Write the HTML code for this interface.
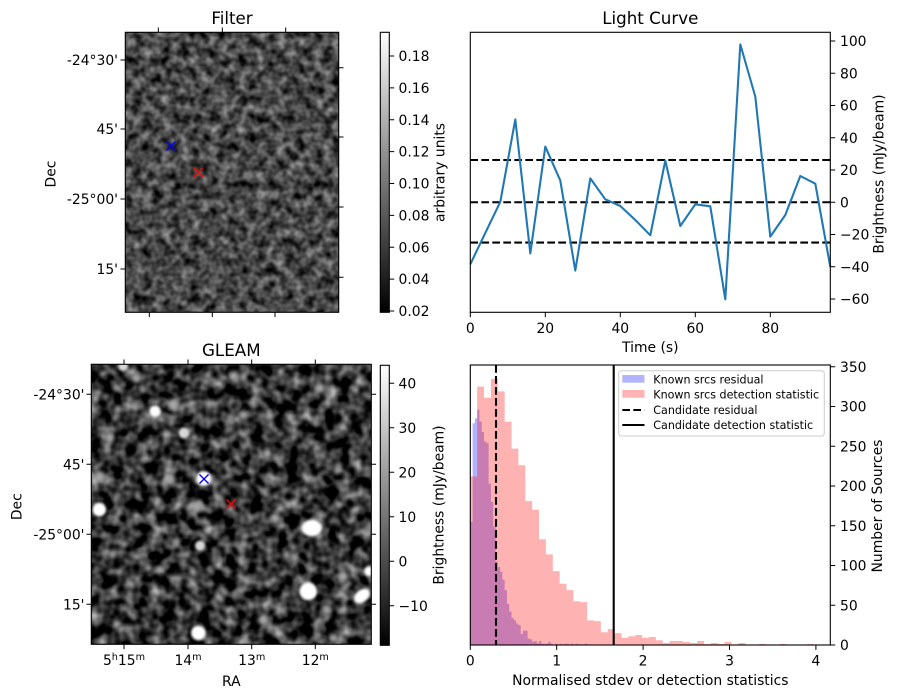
<!DOCTYPE html>
<html>
<head>
<meta charset="utf-8">
<style>
  html,body{margin:0;padding:0;background:#fff;}
  svg{display:block;}
  text{font-family:"DejaVu Sans","Liberation Sans",sans-serif;fill:#000;}
</style>
</head>
<body>
<svg width="898" height="699" viewBox="0 0 898 699" xmlns="http://www.w3.org/2000/svg">
  <defs>
    <filter id="fnoise" x="0" y="0" width="1" height="1" color-interpolation-filters="sRGB">
      <feTurbulence type="fractalNoise" baseFrequency="0.105" numOctaves="2" seed="7"/>
      <feColorMatrix type="matrix" values="0.9 0 0 0 -0.17  0.9 0 0 0 -0.17  0.9 0 0 0 -0.17  0 0 0 0 1"/>
    </filter>
    <filter id="gnoise" x="0" y="0" width="1" height="1" color-interpolation-filters="sRGB">
      <feTurbulence type="fractalNoise" baseFrequency="0.08" numOctaves="2" seed="3"/>
      <feColorMatrix type="matrix" values="1.3 0 0 0 -0.44  1.3 0 0 0 -0.44  1.3 0 0 0 -0.44  0 0 0 0 1"/>
    </filter>
    <filter id="blur" x="-50%" y="-50%" width="200%" height="200%">
      <feGaussianBlur stdDeviation="1.3"/>
    </filter>
    <filter id="blur2" x="-50%" y="-50%" width="200%" height="200%">
      <feGaussianBlur stdDeviation="2"/>
    </filter>
    <clipPath id="gclip"><rect x="91.3" y="364.3" width="280" height="280"/></clipPath>
    <linearGradient id="cbar" x1="0" y1="1" x2="0" y2="0">
      <stop offset="0" stop-color="#000"/>
      <stop offset="1" stop-color="#fff"/>
    </linearGradient>
  </defs>

  <!-- ================= FILTER PANEL ================= -->
  <text x="232" y="24" font-size="16.7" text-anchor="middle">Filter</text>
  <rect x="125.3" y="32.3" width="213.4" height="280" filter="url(#fnoise)" fill="#555"/>
  <g stroke-width="1.4" fill="none">
    <path d="M166.5,141.5 L175.5,150.5 M166.5,150.5 L175.5,141.5" stroke="#0000ff"/>
    <path d="M193.8,167.8 L202.8,176.8 M193.8,176.8 L202.8,167.8" stroke="#ff0000"/>
  </g>
  <rect x="125.3" y="32.3" width="213.4" height="280" fill="none" stroke="#000" stroke-width="1.1"/>
  <g stroke="#000" stroke-width="1">
    <path d="M120.5,60 H125.3 M120.5,129 H125.3 M120.5,199 H125.3 M120.5,269 H125.3"/>
    <path d="M338.7,67.7 H343.5 M338.7,137 H343.5 M338.7,207 H343.5 M338.7,277.3 H343.5"/>
    <path d="M158.3,27.5 V32.3 M222.3,27.5 V32.3 M285.7,27.5 V32.3"/>
    <path d="M149.3,312.3 V317.1 M212.3,312.3 V317.1 M275,312.3 V317.1"/>
  </g>
  <g font-size="13.9" text-anchor="end">
    <text x="118" y="65">-24°30'</text>
    <text x="118" y="134">45'</text>
    <text x="118" y="204">-25°00'</text>
    <text x="118" y="274">15'</text>
  </g>
  <text transform="translate(55.5,174) rotate(-90)" font-size="13.9" text-anchor="middle">Dec</text>

  <!-- Filter colorbar -->
  <rect x="380.3" y="32.3" width="9" height="280" fill="url(#cbar)" stroke="#000" stroke-width="1.1"/>
  <g stroke="#000" stroke-width="1">
    <path d="M389.3,56 h4.9 M389.3,87.9 h4.9 M389.3,119.75 h4.9 M389.3,151.6 h4.9 M389.3,183.5 h4.9 M389.3,215.4 h4.9 M389.3,247.25 h4.9 M389.3,279.1 h4.9 M389.3,311 h4.9"/>
  </g>
  <g font-size="13.9">
    <text x="398.5" y="61">0.18</text>
    <text x="398.5" y="92.9">0.16</text>
    <text x="398.5" y="124.75">0.14</text>
    <text x="398.5" y="156.6">0.12</text>
    <text x="398.5" y="188.5">0.10</text>
    <text x="398.5" y="220.4">0.08</text>
    <text x="398.5" y="252.25">0.06</text>
    <text x="398.5" y="284.1">0.04</text>
    <text x="398.5" y="316">0.02</text>
  </g>
  <text transform="translate(444.5,172.5) rotate(-90)" font-size="13.9" text-anchor="middle">arbitrary units</text>

  <!-- ================= LIGHT CURVE ================= -->
  <text x="650.3" y="24" font-size="16.7" text-anchor="middle">Light Curve</text>
  <g stroke="#000" stroke-width="2.08" stroke-dasharray="7.7 3.3" fill="none">
    <path d="M470.3,160 H830.3"/>
    <path d="M470.3,202.25 H830.3"/>
    <path d="M470.3,242.6 H830.3"/>
  </g>
  <polyline fill="none" stroke="#1f77b4" stroke-width="2.08" stroke-linejoin="round"
    points="470.3,264.3 485.3,232.9 500.3,201.8 515.3,119.4 530.3,253.4 545.3,146.6 560.3,180.6 575.3,270.6 590.3,178.4 605.3,199.3 620.3,206.0 635.3,220.0 650.3,235.3 665.3,160.6 680.3,226.0 695.3,204.3 710.3,206.3 725.3,299.3 740.3,44.4 755.3,96.6 770.3,236.6 785.3,215.0 800.3,176.0 815.3,183.7 830.3,266.8"/>
  <rect x="470.3" y="32.3" width="360" height="280" fill="none" stroke="#000" stroke-width="1.1"/>
  <g stroke="#000" stroke-width="1">
    <path d="M470.3,312.3 v4.9 M545.3,312.3 v4.9 M620.3,312.3 v4.9 M695.3,312.3 v4.9 M770.3,312.3 v4.9"/>
    <path d="M830.3,41 h4.9 M830.3,73.25 h4.9 M830.3,105.5 h4.9 M830.3,137.75 h4.9 M830.3,170 h4.9 M830.3,202.25 h4.9 M830.3,234.5 h4.9 M830.3,266.75 h4.9 M830.3,299 h4.9"/>
  </g>
  <g font-size="13.9" text-anchor="middle">
    <text x="470.3" y="333">0</text>
    <text x="545.3" y="333">20</text>
    <text x="620.3" y="333">40</text>
    <text x="695.3" y="333">60</text>
    <text x="770.3" y="333">80</text>
  </g>
  <text x="650.3" y="352" font-size="13.9" text-anchor="middle">Time (s)</text>
  <g font-size="13.9">
    <text x="840" y="46">100</text>
    <text x="840" y="78.25">80</text>
    <text x="840" y="110.5">60</text>
    <text x="840" y="142.75">40</text>
    <text x="840" y="175">20</text>
    <text x="840" y="207.25">0</text>
    <text x="840" y="239.5">−20</text>
    <text x="840" y="271.75">−40</text>
    <text x="840" y="304">−60</text>
  </g>
  <text transform="translate(883.5,174) rotate(-90)" font-size="13.9" text-anchor="middle">Brightness (mJy/beam)</text>

  <!-- ================= GLEAM PANEL ================= -->
  <text x="231.3" y="356" font-size="16.7" text-anchor="middle">GLEAM</text>
  <rect x="91.3" y="364.3" width="280" height="280" filter="url(#gnoise)" fill="#444"/>
  <g clip-path="url(#gclip)">
    <g filter="url(#blur2)" fill="#a8a8a8">
      <circle cx="169.3" cy="479.7" r="5"/>
      <circle cx="173.3" cy="404.7" r="6"/>
      <circle cx="243.3" cy="414.7" r="4.5"/>
      <circle cx="136.7" cy="378" r="5"/>
      <circle cx="233.3" cy="376.3" r="5"/>
      <circle cx="320" cy="388" r="5"/>
      <circle cx="275" cy="518" r="5"/>
      <circle cx="343.3" cy="576.3" r="5"/>
      <circle cx="263.3" cy="619.7" r="5"/>
      <circle cx="333.3" cy="638" r="4.5"/>
      <circle cx="326.7" cy="609.7" r="4.5"/>
      <circle cx="196.7" cy="506.3" r="5"/>
      <circle cx="110" cy="438" r="4.5"/>
      <circle cx="100" cy="476.3" r="5"/>
    </g>
    <g filter="url(#blur)" fill="#d8d8d8">
      <circle cx="184" cy="433" r="5.5"/>
      <circle cx="200" cy="545.7" r="5"/>
      <circle cx="123.3" cy="366" r="5"/>
    </g>
    <g filter="url(#blur)" fill="#ffffff">
      <circle cx="155" cy="411.3" r="5.8"/>
      <circle cx="203.8" cy="478.5" r="7.5"/>
      <circle cx="99.3" cy="509.7" r="6.8"/>
      <ellipse cx="311.7" cy="528" rx="10" ry="8.3"/>
      <circle cx="308.3" cy="591.3" r="8.8"/>
      <ellipse cx="362" cy="596" rx="9" ry="6" transform="rotate(-40 362 596)"/>
      <circle cx="369" cy="571.3" r="5"/>
      <circle cx="198.3" cy="633" r="7.2"/>
    </g>
  </g>
  <g stroke-width="1.4" fill="none">
    <path d="M199.5,474.5 L208.5,483.5 M199.5,483.5 L208.5,474.5" stroke="#0000ff"/>
    <path d="M226.5,499.5 L235.5,508.5 M226.5,508.5 L235.5,499.5" stroke="#ff0000"/>
  </g>
  <rect x="91.3" y="364.3" width="280" height="280" fill="none" stroke="#000" stroke-width="1.1"/>
  <g stroke="#000" stroke-width="1">
    <path d="M86.5,394.3 H91.3 M86.5,464.3 H91.3 M86.5,534.3 H91.3 M86.5,604.3 H91.3"/>
    <path d="M371.3,394.3 h4.8 M371.3,464.3 h4.8 M371.3,534.3 h4.8 M371.3,604.3 h4.8"/>
    <path d="M124,359.5 V364.3 M188,359.5 V364.3 M251.7,359.5 V364.3 M315.3,359.5 V364.3"/>
    <path d="M124,644.3 V649.1 M188,644.3 V649.1 M251.7,644.3 V649.1 M315.3,644.3 V649.1"/>
  </g>
  <g font-size="13.9" text-anchor="end">
    <text x="84.5" y="399.3">-24°30'</text>
    <text x="84.5" y="469.3">45'</text>
    <text x="84.5" y="539.3">-25°00'</text>
    <text x="84.5" y="609.3">15'</text>
  </g>
  <text transform="translate(21.5,506.7) rotate(-90)" font-size="13.9" text-anchor="middle">Dec</text>
  <g font-size="13.9" text-anchor="middle">
    <text x="124" y="665">5<tspan font-size="9.7" dy="-5">h</tspan><tspan dy="5">15</tspan><tspan font-size="9.7" dy="-5">m</tspan></text>
    <text x="188" y="665">14<tspan font-size="9.7" dy="-5">m</tspan></text>
    <text x="251.7" y="665">13<tspan font-size="9.7" dy="-5">m</tspan></text>
    <text x="315.3" y="665">12<tspan font-size="9.7" dy="-5">m</tspan></text>
  </g>
  <text x="231.3" y="686" font-size="13.9" text-anchor="middle">RA</text>

  <!-- GLEAM colorbar -->
  <rect x="380.3" y="365.3" width="9" height="280" fill="url(#cbar)" stroke="#000" stroke-width="1.1"/>
  <g stroke="#000" stroke-width="1">
    <path d="M389.3,383.3 h4.9 M389.3,427.8 h4.9 M389.3,472.3 h4.9 M389.3,516.8 h4.9 M389.3,561.3 h4.9 M389.3,605.8 h4.9"/>
  </g>
  <g font-size="13.9">
    <text x="398.5" y="388.3">40</text>
    <text x="398.5" y="432.8">30</text>
    <text x="398.5" y="477.3">20</text>
    <text x="398.5" y="521.8">10</text>
    <text x="398.5" y="566.3">0</text>
    <text x="398.5" y="610.8">−10</text>
  </g>
  <text transform="translate(443.5,505) rotate(-90)" font-size="13.9" text-anchor="middle">Brightness (mJy/beam)</text>

  <!-- ================= HISTOGRAM ================= -->
  <path fill="#0000ff" fill-opacity="0.3" d="M470.3,645 V521.8 H472.59 V423.2 H474.88 V418.4 H477.17 V409.7 H479.46 V421.6 H481.76 V431.9 H484.05 V441.5 H486.34 V443.1 H488.63 V483.6 H490.92 V501.9 H493.21 V526.5 H495.5 V561.5 H497.79 V567.1 H500.08 V571.9 H502.37 V579.8 H504.67 V590.1 H506.96 V603.7 H509.25 V611.6 H511.54 V618 H513.83 V620.4 H516.12 V623.5 H518.41 V625.1 H520.7 V633.9 H522.99 V630.7 H527.58 V638.6 H529.87 V639.4 H532.16 V641.8 H534.45 V641 H536.74 V643.4 H539.03 V641 H541.32 V643.8 H548.19 V641.8 H550.49 V643.8 H552.78 V645 H555.07 V643.8 H557.36 V645 H559.65 V643.8 H561.94 V645 H564.23 V643.8 H568.81 V645 H571.1 V643.8 H573.39 V645 H575.68 V643.8 H577.97 V645 H584.85 V643.8 H587.14 V645 Z"/>
  <path fill="#ff0000" fill-opacity="0.3" d="M470.3,645 V476.5 H477.17 V386.6 H484.05 V397.8 H490.92 V378.7 H497.79 V391.4 H504.67 V421.6 H511.54 V448.6 H518.41 V465.3 H525.28 V501.1 H532.16 V509.8 H539.03 V539.3 H545.9 V554.4 H552.78 V571.1 H559.65 V583.8 H566.52 V590.1 H573.4 V601.3 H580.27 V602.1 H587.14 V620.4 H594.01 V621.1 H600.89 V632.3 H607.76 V629.1 H614.63 V633.1 H621.51 V637.8 H628.38 V636.3 H635.25 V635 H642.13 V637.8 H649 V637 H655.87 V640.2 H662.74 V643 H669.62 V641 H676.49 V641 H683.36 V642 H690.24 V643 H697.11 V641 H703.98 V644 H710.86 V643 H717.73 V644 H724.6 V642 H731.48 V645 H738.35 V643 H745.22 V645 H758.97 V644 H765.84 V645 H779.59 V644 H786.46 V645 H807.08 V644 H813.95 V645 Z"/>
  <path d="M496,365 V645" stroke="#000" stroke-width="2.08" stroke-dasharray="7.7 3.3" fill="none"/>
  <path d="M613.7,365 V645" stroke="#000" stroke-width="2.08" fill="none"/>
  <rect x="470.3" y="365" width="360" height="280" fill="none" stroke="#000" stroke-width="1.1"/>
  <g stroke="#000" stroke-width="1">
    <path d="M470.3,645 v4.9 M556.7,645 v4.9 M643.1,645 v4.9 M729.5,645 v4.9 M815.9,645 v4.9"/>
    <path d="M830.3,645 h4.9 M830.3,605.25 h4.9 M830.3,565.5 h4.9 M830.3,525.75 h4.9 M830.3,486 h4.9 M830.3,446.25 h4.9 M830.3,406.5 h4.9 M830.3,366.75 h4.9"/>
  </g>
  <g font-size="13.9" text-anchor="middle">
    <text x="470.3" y="665.5">0</text>
    <text x="556.7" y="665.5">1</text>
    <text x="643.1" y="665.5">2</text>
    <text x="729.5" y="665.5">3</text>
    <text x="815.9" y="665.5">4</text>
  </g>
  <text x="650.3" y="685" font-size="13.9" text-anchor="middle">Normalised stdev or detection statistics</text>
  <g font-size="13.9">
    <text x="840" y="650">0</text>
    <text x="840" y="610.25">50</text>
    <text x="840" y="570.5">100</text>
    <text x="840" y="530.75">150</text>
    <text x="840" y="491">200</text>
    <text x="840" y="451.25">250</text>
    <text x="840" y="411.5">300</text>
    <text x="840" y="371.75">350</text>
  </g>
  <text transform="translate(882,506) rotate(-90)" font-size="13.9" text-anchor="middle">Number of Sources</text>

  <!-- Legend -->
  <rect x="618.7" y="370.7" width="205.6" height="65.3" rx="2.8" fill="#fff" fill-opacity="0.8" stroke="#cccccc" stroke-width="1"/>
  <rect x="622.3" y="375" width="22.2" height="7.7" fill="#b3b3ff"/>
  <rect x="622.3" y="390" width="22.2" height="7.7" fill="#ffb3b3"/>
  <path d="M622.3,410 H644.5" stroke="#000" stroke-width="2.08" stroke-dasharray="7.7 3.3"/>
  <path d="M622.3,425 H644.5" stroke="#000" stroke-width="2.08"/>
  <g font-size="11.1">
    <text x="653.3" y="383.3">Known srcs residual</text>
    <text x="653.3" y="398.3">Known srcs detection statistic</text>
    <text x="653.3" y="414">Candidate residual</text>
    <text x="653.3" y="429">Candidate detection statistic</text>
  </g>
</svg>
</body>
</html>
